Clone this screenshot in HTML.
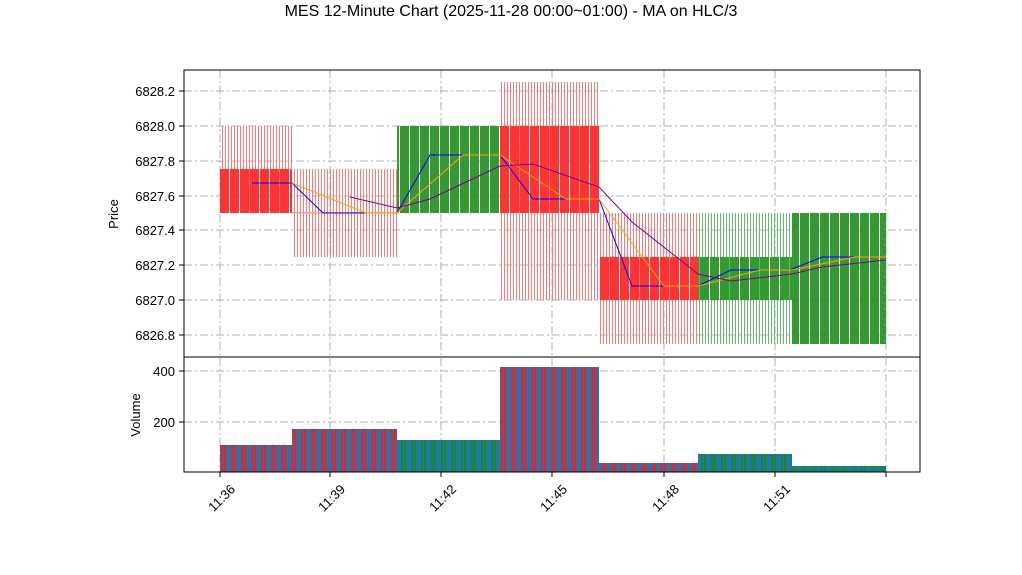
<!DOCTYPE html>
<html><head><meta charset="utf-8"><style>body{margin:0;background:#fff}svg{display:block;font-family:"Liberation Sans","DejaVu Sans",sans-serif}</style></head><body>
<svg width="1022" height="575" viewBox="0 0 1022 575" xmlns="http://www.w3.org/2000/svg">
<defs>
<pattern id="rb" width="10" height="10" patternUnits="userSpaceOnUse"><rect width="9" height="10" fill="#ff3333"/></pattern>
<pattern id="gb" width="10" height="10" patternUnits="userSpaceOnUse"><rect width="9" height="10" fill="#339933"/></pattern>
<pattern id="rw" width="3" height="10" patternUnits="userSpaceOnUse"><rect width="1" height="10" fill="#ff7777"/></pattern>
<pattern id="gw" width="3" height="10" patternUnits="userSpaceOnUse"><rect width="1" height="10" fill="#66bb66"/></pattern>
<pattern id="rv" width="10" height="10" patternUnits="userSpaceOnUse"><rect width="10" height="10" fill="#1f77b4"/><rect x="1" width="2" height="10" fill="#ff1a1a"/><rect x="4" width="2" height="10" fill="#ff1a1a"/></pattern>
<pattern id="gv" width="10" height="10" patternUnits="userSpaceOnUse"><rect width="10" height="10" fill="#1f77b4"/><rect x="1" width="2" height="10" fill="#1a8a1a"/><rect x="4" width="2" height="10" fill="#1a8a1a"/></pattern>
</defs>
<text x="511" y="16" font-size="16" text-anchor="middle">MES 12-Minute Chart (2025-11-28 00:00~01:00) - MA on HLC/3</text>
<g stroke="#b0b0b0" stroke-width="1" stroke-dasharray="8,3,2,3">
<line x1="184" x2="920" y1="91" y2="91"/><line x1="184" x2="920" y1="126" y2="126"/><line x1="184" x2="920" y1="161" y2="161"/><line x1="184" x2="920" y1="196" y2="196"/><line x1="184" x2="920" y1="230" y2="230"/><line x1="184" x2="920" y1="265" y2="265"/><line x1="184" x2="920" y1="300" y2="300"/><line x1="184" x2="920" y1="335" y2="335"/>
<line x1="184" x2="920" y1="371" y2="371"/><line x1="184" x2="920" y1="422" y2="422"/>
<line x1="220" x2="220" y1="70" y2="472"/><line x1="330" x2="330" y1="70" y2="472"/><line x1="441" x2="441" y1="70" y2="472"/><line x1="552" x2="552" y1="70" y2="472"/><line x1="664" x2="664" y1="70" y2="472"/><line x1="775" x2="775" y1="70" y2="472"/><line x1="886" x2="886" y1="70" y2="472"/>
</g>
<rect x="220" y="126" width="72" height="87" fill="url(#rw)"/>
<rect x="292" y="169" width="105" height="88" fill="url(#rw)"/>
<rect x="500" y="82" width="99" height="218" fill="url(#rw)"/>
<rect x="599" y="213" width="99" height="131" fill="url(#rw)"/>
<rect x="698" y="213" width="94" height="131" fill="url(#gw)"/>
<rect x="220" y="169" width="72" height="44" fill="url(#rb)"/>
<rect x="292" y="212" width="105" height="1.5" fill="#ff9999"/>
<rect x="397" y="126" width="103" height="87" fill="url(#gb)"/>
<rect x="500" y="126" width="99" height="87" fill="url(#rb)"/>
<rect x="599" y="257" width="99" height="43" fill="url(#rb)"/>
<rect x="698" y="257" width="94" height="43" fill="url(#gb)"/>
<rect x="792" y="213" width="94" height="131" fill="url(#gb)"/>
<polyline fill="none" stroke="#0000ff" stroke-width="1" points="252,183 292,183 323,213 397,213 430,155 500,155 533,199 599,199 632,286 698,286 731,270 790,270 822,257 886,257"/>
<polyline fill="none" stroke="#ffa500" stroke-width="1" points="292,183 366,213 397,213 463,155 500,155 566,199 599,199 664,286 698,286 760,270 792,270 855,257 886,257"/>
<polyline fill="none" stroke="#800080" stroke-width="1" points="350,197 397,208 430,199 500,166 533,164 599,187 632,222 698,274 731,281 792,274 822,267 886,260"/>
<rect x="220" y="445" width="72" height="27" fill="url(#rv)"/>
<rect x="292" y="429" width="105" height="43" fill="url(#rv)"/>
<rect x="397" y="440" width="103" height="32" fill="url(#gv)"/>
<rect x="500" y="367" width="99" height="105" fill="url(#rv)"/>
<rect x="599" y="463" width="99" height="9" fill="url(#rv)"/>
<rect x="698" y="454" width="94" height="18" fill="url(#gv)"/>
<rect x="792" y="466" width="94" height="6" fill="url(#gv)"/>
<rect x="184" y="70" width="736" height="287" fill="none" stroke="#000"/>
<rect x="184" y="357" width="736" height="115" fill="none" stroke="#000"/>
<g stroke="#000"><line x1="179" x2="184" y1="91" y2="91"/><line x1="179" x2="184" y1="126" y2="126"/><line x1="179" x2="184" y1="161" y2="161"/><line x1="179" x2="184" y1="196" y2="196"/><line x1="179" x2="184" y1="230" y2="230"/><line x1="179" x2="184" y1="265" y2="265"/><line x1="179" x2="184" y1="300" y2="300"/><line x1="179" x2="184" y1="335" y2="335"/><line x1="179" x2="184" y1="371" y2="371"/><line x1="179" x2="184" y1="422" y2="422"/>
<line x1="220" x2="220" y1="472" y2="477"/><line x1="330" x2="330" y1="472" y2="477"/><line x1="441" x2="441" y1="472" y2="477"/><line x1="552" x2="552" y1="472" y2="477"/><line x1="664" x2="664" y1="472" y2="477"/><line x1="775" x2="775" y1="472" y2="477"/><line x1="886" x2="886" y1="472" y2="477"/></g>
<g font-size="13" text-anchor="end">
<text x="175" y="96">6828.2</text><text x="175" y="131">6828.0</text><text x="175" y="166">6827.8</text><text x="175" y="201">6827.6</text><text x="175" y="235">6827.4</text><text x="175" y="270">6827.2</text><text x="175" y="305">6827.0</text><text x="175" y="340">6826.8</text>
<text x="175" y="376">400</text><text x="175" y="427">200</text>
<text transform="translate(236,490) rotate(-45)">11:36</text><text transform="translate(346,490) rotate(-45)">11:39</text><text transform="translate(457,490) rotate(-45)">11:42</text><text transform="translate(568,490) rotate(-45)">11:45</text><text transform="translate(680,490) rotate(-45)">11:48</text><text transform="translate(791,490) rotate(-45)">11:51</text>
</g>
<text transform="translate(118,214) rotate(-90)" font-size="13" text-anchor="middle">Price</text>
<text transform="translate(140,415) rotate(-90)" font-size="13" text-anchor="middle">Volume</text>
</svg>
</body></html>
